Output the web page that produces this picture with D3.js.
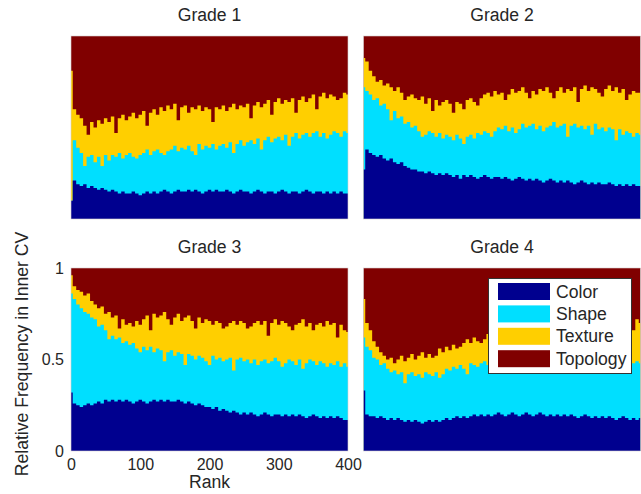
<!DOCTYPE html>
<html>
<head>
<meta charset="utf-8">
<script src="https://cdn.jsdelivr.net/npm/d3@7"></script>
<style>
  body { margin: 0; background: #fff; }
  text { font-family: "Liberation Sans", Arial, sans-serif; fill: #262626; }
</style>
</head>
<body>
<svg id="chart"></svg>
<script>
// categories, ticks
const categories = ['Color', 'Shape', 'Texture', 'Topology'];
const grades = ['Grade 1', 'Grade 2', 'Grade 3', 'Grade 4'];
const xTicks = [0, 100, 200, 300, 400];
const yTicks = [0, 0.5, 1];
// rank of each sample (every 5th rank)
const ranks = d3.range(0, 401, 5);

// share of each feature type (percent)
const g1Color = [10,21,19,18,19,17,18,17,16,17, 16,15,16,15,14,15,14,14,15,14, 13,14,15,14,15,14,15,16,15,14, 15,16,15,15,16,15,16,15,14,15, 16,15,16,15,15,16,15,14,15,16, 15,15,14,15,16,15,14,15,15,14, 15,16,15,14,15,15,14,15,16,15, 14,15,15,14,15,14,15,14,15,14, 14];
const g1Shape = [0,22,20,18,10,17,17,14,18,12, 19,17,19,19,22,18,21,22,19,19, 22,22,23,21,22,24,21,19,22,24, 25,21,24,23,24,22,19,26,24,25, 23,26,22,25,26,23,27,22,26,27, 25,27,29,26,28,23,29,30,27,30, 30,27,31,26,30,32,30,31,31,30, 33,33,30,33,29,32,33,33,30,34, 33];
const g1Texture = [71,17,18,19,22,12,18,19,20,23, 20,21,21,13,19,24,19,20,24,22, 22,23,13,23,23,19,25,24,25,22, 23,17,22,24,18,24,25,21,21,21, 21,12,23,20,21,20,19,27,19,19, 21,21,12,21,20,23,20,20,15,20, 21,20,19,24,21,11,21,21,17,21, 21,12,22,22,22,22,19,18,21,21, 21];
const g1Topology = [19,40,43,45,49,54,47,50,46,48, 45,47,44,53,45,43,46,44,42,45, 43,41,49,42,40,43,39,41,38,40, 37,46,39,38,42,39,40,38,41,39, 40,47,39,40,38,41,39,37,40,38, 39,37,45,38,36,39,37,35,43,36, 34,37,35,36,34,42,35,33,36,34, 32,40,33,31,34,32,33,35,34,31, 32];

const g2Color = [27,38,36,35,34,35,33,32,33,31, 30,31,29,28,27,27,26,26,25,26, 25,24,25,24,25,24,23,24,22,24, 23,24,23,22,23,24,23,22,23,23, 22,23,22,21,22,23,22,21,22,21, 22,21,20,21,22,21,20,21,20,21, 20,19,20,21,20,19,20,19,20,19, 19,20,19,18,19,18,19,18,19,18, 18];
const g2Shape = [45,32,32,30,32,27,30,28,21,28, 25,25,23,25,23,24,22,19,21,22, 22,21,22,20,21,21,20,22,22,17, 22,22,21,25,23,24,24,23,25,27, 27,28,26,29,25,26,30,29,29,31, 27,30,28,29,29,32,30,30,32,24, 31,33,30,30,29,32,26,33,29,31, 29,30,30,25,30,28,29,29,26,29, 28];
const g2Texture = [16,16,13,13,9,14,10,14,18,11, 17,13,13,14,18,15,17,22,17,18, 12,20,15,20,19,18,15,18,19,19, 20,20,20,15,20,20,22,22,22,18, 20,14,20,21,22,21,20,19,15,18, 19,20,22,22,18,13,20,21,17,26, 19,20,14,20,24,19,26,19,20,17, 23,23,21,29,20,25,17,21,25,22, 23];
const g2Topology = [12,14,19,22,25,24,27,26,28,30, 28,31,35,33,32,34,35,33,37,34, 41,35,38,36,35,37,42,36,37,40, 35,34,36,38,34,32,31,33,30,32, 31,35,32,29,31,30,28,31,34,30, 32,29,30,28,31,34,30,28,31,29, 30,28,36,29,27,30,28,29,31,33, 29,27,30,28,31,29,35,32,30,31, 31];

const g3Color = [32,26,25,24,25,26,25,26,27,26, 28,27,28,27,28,27,28,27,26,27, 28,27,26,27,28,27,28,27,28,27, 27,28,27,26,27,26,25,26,25,24, 24,23,24,22,23,22,21,22,21,20, 21,20,21,20,19,20,21,20,19,20, 20,19,20,19,20,19,20,19,18,19, 20,19,18,19,18,19,18,19,18,17, 17];
const g3Shape = [54,57,55,54,51,49,48,46,41,43, 38,34,35,34,34,32,32,31,33,29, 26,30,29,30,26,29,27,22,26,28, 25,26,26,21,26,26,25,26,26,25, 23,29,26,29,26,28,30,22,29,31, 28,30,27,30,28,29,29,28,30,31, 29,27,28,31,29,28,30,26,30,31, 29,28,31,29,28,29,29,30,28,31, 29];
const g3Texture = [10,7,8,9,9,11,9,8,10,10, 9,15,10,13,5,13,9,12,9,15, 15,15,19,9,21,17,19,27,18,14, 21,21,18,26,21,19,17,21,19,23, 24,17,21,19,18,18,19,27,19,20, 21,17,20,20,24,20,21,15,21,21, 20,25,22,18,17,22,20,27,20,20, 17,22,21,20,25,21,23,13,23,18, 19];
const g3Topology = [4,10,12,13,15,14,18,20,22,21, 25,24,27,26,33,28,31,30,32,29, 31,28,26,34,25,27,26,24,28,31, 27,25,29,27,26,29,33,27,30,28, 29,31,29,30,33,32,30,29,31,29, 30,33,32,30,29,31,29,37,30,28, 31,29,30,32,34,31,30,28,32,30, 34,31,30,32,29,31,30,38,31,34, 35];

const g4Color = [33,20,19,19,18,19,18,17,18,17, 18,17,16,17,16,17,16,15,16,17, 16,17,16,17,18,17,18,19,18,19, 18,19,20,19,20,19,20,19,20,21, 20,19,20,21,20,19,20,21,20,19, 20,21,20,19,20,19,20,19,20,19, 20,19,18,19,20,19,18,19,18,19, 18,19,18,17,18,19,18,17,18,17, 18];
const g4Shape = [29,37,36,32,32,28,30,28,25,27, 24,26,21,25,27,24,26,25,27,25, 25,26,24,25,27,27,28,26,29,26, 24,29,27,27,28,30,27,30,24,29, 29,31,28,29,31,26,30,30,29,31, 31,28,26,32,29,31,31,30,30,29, 26,30,32,29,29,31,30,30,29,30, 30,31,30,32,29,29,31,30,30,32, 30];
const g4Texture = [21,13,11,9,7,7,4,5,8,4, 8,9,12,9,10,9,10,14,8,11, 10,9,16,12,12,11,12,11,10,14, 19,11,15,14,11,12,17,13,21,13, 15,12,16,15,16,20,16,17,13,17, 18,17,22,16,20,18,15,18,19,20, 24,19,19,19,19,20,21,22,21,21, 21,17,21,21,21,22,22,22,18,23, 22];
const g4Topology = [17,30,34,40,43,46,48,50,49,52, 50,48,51,49,47,50,48,46,49,47, 49,48,44,46,43,45,42,44,43,41, 39,41,38,40,41,39,36,38,35,37, 36,38,36,35,33,35,34,32,38,33, 31,34,32,33,31,32,34,33,31,32, 30,32,31,33,32,30,31,29,32,30, 31,33,31,30,32,30,29,31,34,28, 30];

const gradeSeries = [
    [g1Color, g1Shape, g1Texture, g1Topology],
    [g2Color, g2Shape, g2Texture, g2Topology],
    [g3Color, g3Shape, g3Texture, g3Topology],
    [g4Color, g4Shape, g4Texture, g4Topology]
];

const colors = ['#00008f', '#00dfff', '#ffcf00', '#800000'];

const width = 641, height = 494;
const panelW = 277, panelH = 183;
// top-left corner of each panel
const origins = [[71, 36], [363.5, 36], [71, 268], [363.5, 268]];

const svg = d3.select('#chart')
    .attr('width', width)
    .attr('height', height);

function drawPanel(k){
    const [left, top] = origins[k];
    const xScale = d3.scaleLinear().domain([0, 400]).range([left, left + panelW]);
    const yScale = d3.scaleLinear().domain([0, 1]).range([top + panelH, top]);

    const rows = ranks.map((r, i) => {
        const row = {rank: r};
        categories.forEach((c, j) => row[c] = gradeSeries[k][j][i]);
        return row;
    });
    const layers = d3.stack().keys(categories).offset(d3.stackOffsetExpand)(rows);

    // every layer is filled from the bottom up, topmost first, so no seams show
    const area = d3.area()
        .curve(d3.curveStep)
        .x(d => xScale(d.data.rank))
        .y0(yScale(0))
        .y1(d => yScale(d[1]));

    const g = svg.append('g');
    g.selectAll('path')
        .data(layers.slice().reverse())
        .join('path')
        .attr('fill', d => colors[d.index])
        .attr('d', area);

    g.append('rect')
        .attr('x', left).attr('y', top)
        .attr('width', panelW).attr('height', panelH)
        .attr('fill', 'none')
        .attr('stroke', '#d8d0d0')
        .attr('stroke-width', 0.6);

    //title
    svg.append('text')
        .attr('x', left + panelW / 2)
        .attr('y', top - 15)
        .attr('text-anchor', 'middle')
        .attr('font-size', 17.6)
        .text(grades[k]);

    if (k === 2) {
        const yAxis = d3.axisLeft(yScale)
            .tickValues(yTicks)
            .tickSize(0)
            .tickPadding(7)
            .tickFormat(d3.format('~g'));
        const xAxis = d3.axisBottom(xScale)
            .tickValues(xTicks)
            .tickSize(0)
            .tickPadding(8)
            .tickFormat(d3.format('d'));

        const ya = svg.append('g')
            .attr('transform', `translate(${left}, 0)`)
            .call(yAxis);
        const xa = svg.append('g')
            .attr('transform', `translate(0, ${top + panelH})`)
            .call(xAxis);
        [ya, xa].forEach(a => {
            a.select('.domain').remove();
            a.attr('font-size', 16).attr('font-family', null);
            a.selectAll('text').attr('fill', '#262626');
        });

        //axis label
        svg.append('text')
            .attr('x', left + panelW / 2)
            .attr('y', 488)
            .attr('text-anchor', 'middle')
            .attr('font-size', 17.6)
            .text('Rank');

        svg.append('text')
            .attr('transform', `translate(28, 354) rotate(-90)`)
            .attr('text-anchor', 'middle')
            .attr('font-size', 17.6)
            .text('Relative Frequency in Inner CV');
    }
}

grades.forEach((g, k) => drawPanel(k));

//legend
const legend = svg.append('g');
legend.append('rect')
    .attr('x', 488.5).attr('y', 278.5)
    .attr('width', 143).attr('height', 95)
    .attr('fill', '#fff')
    .attr('stroke', '#333')
    .attr('stroke-width', 1);

const item = legend.selectAll('g.item')
    .data(categories)
    .join('g')
    .attr('class', 'item')
    .attr('transform', (d, i) => `translate(498, ${283 + i * 22.4})`);
item.append('rect')
    .attr('width', 52).attr('height', 17)
    .attr('fill', (d, i) => colors[i]);
item.append('text')
    .attr('x', 58).attr('y', 8.5)
    .attr('dy', '0.35em')
    .attr('font-size', 17.6)
    .text(d => d);
</script>
</body>
</html>
